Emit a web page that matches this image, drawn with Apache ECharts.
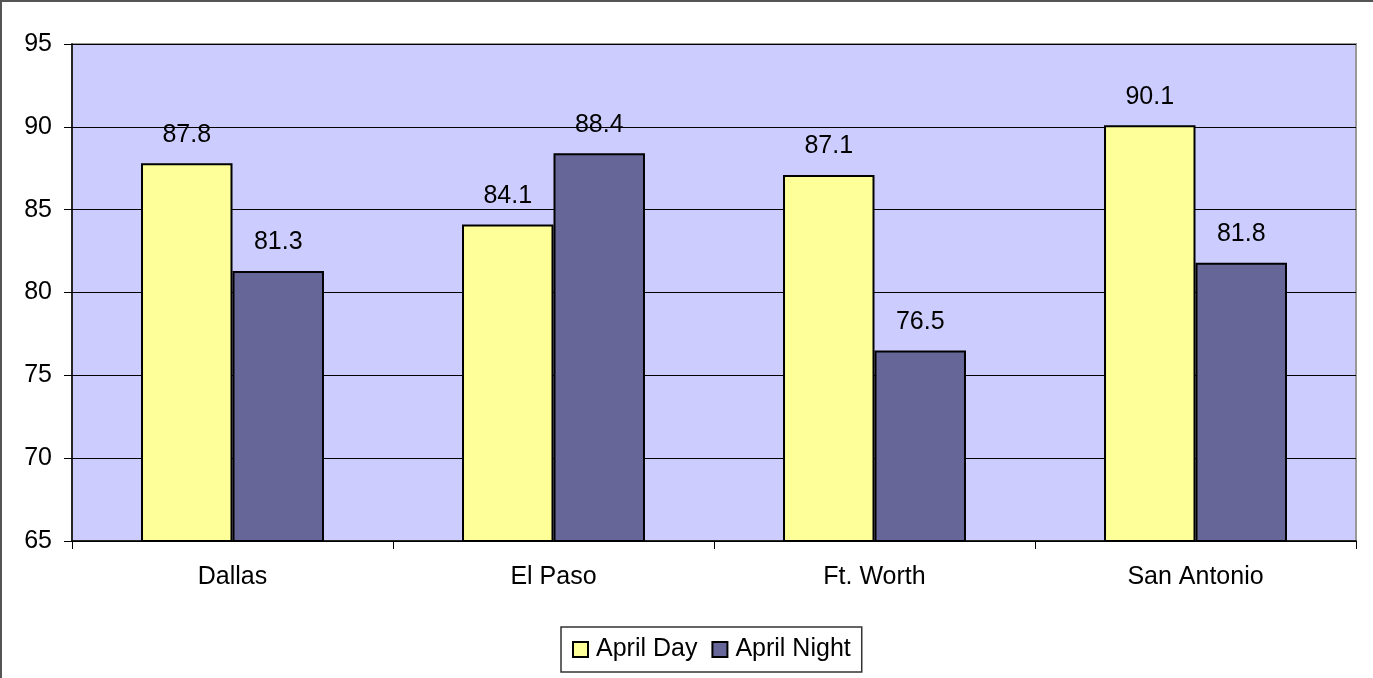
<!DOCTYPE html>
<html>
<head>
<meta charset="UTF-8">
<title>April temperatures</title>
<script src="https://cdn.jsdelivr.net/npm/echarts@6/dist/echarts.min.js"></script>
<style>
  html, body { margin: 0; padding: 0; background: #fff; }
  #main {
    width: 1373px; height: 678px; box-sizing: border-box;
    border-top: 2px solid #555; border-left: 2px solid #555;
  }
</style>
</head>
<body>
<div id="main"></div>
<script>
var cities = ['Dallas', 'El Paso', 'Ft. Worth', 'San Antonio'];
var aprilDay = [87.8, 84.1, 87.1, 90.1];
var aprilNight = [81.3, 88.4, 76.5, 81.8];
var seriesNames = ['April Day', 'April Night'];

var font = 'Arial, "Liberation Sans", sans-serif';
var chart = echarts.init(document.getElementById('main'));

function barSeries(name, data, color) {
  return {
    name: name,
    type: 'bar',
    data: data,
    barGap: '0%',
    barCategoryGap: '43%',
    itemStyle: { color: color, borderColor: '#000', borderWidth: 2 },
    label: {
      show: true,
      position: 'top',
      distance: 16,
      color: '#000',
      fontFamily: font,
      fontSize: 25,
      formatter: function (p) { return p.value.toFixed(1); }
    }
  };
}

chart.setOption({
  animation: false,
  grid: {
    left: 70, right: 17, top: 42, bottom: 137,
    show: true,
    backgroundColor: '#CCCCFF',
    borderColor: '#999',
    borderWidth: 2
  },
  legend: {
    data: seriesNames,
    bottom: 6,
    left: 559,
    padding: [10, 11, 10, 11],
    itemGap: 14,
    itemWidth: 15,
    itemHeight: 15,
    icon: 'rect',
    backgroundColor: '#fff',
    borderColor: '#333',
    borderWidth: 1.5,
    textStyle: { fontFamily: font, fontSize: 25, color: '#000', padding: [0, 0, 0, 3] }
  },
  xAxis: {
    type: 'category',
    data: cities,
    axisLine: { lineStyle: { color: '#000', width: 1.5 } },
    axisTick: { show: true, length: 8, lineStyle: { color: '#000' } },
    axisLabel: { fontFamily: font, fontSize: 25, color: '#000', margin: 24 }
  },
  yAxis: {
    type: 'value',
    min: 65, max: 95, interval: 5,
    axisLine: { show: true, lineStyle: { color: '#000', width: 1.5 } },
    axisTick: { show: true, length: 8, lineStyle: { color: '#000' } },
    axisLabel: { fontFamily: font, fontSize: 25, color: '#000', margin: 20 },
    splitLine: { lineStyle: { color: '#000', width: 1 } }
  },
  series: [
    barSeries(seriesNames[0], aprilDay, '#FFFF99'),
    barSeries(seriesNames[1], aprilNight, '#666699')
  ]
});
</script>
</body>
</html>
